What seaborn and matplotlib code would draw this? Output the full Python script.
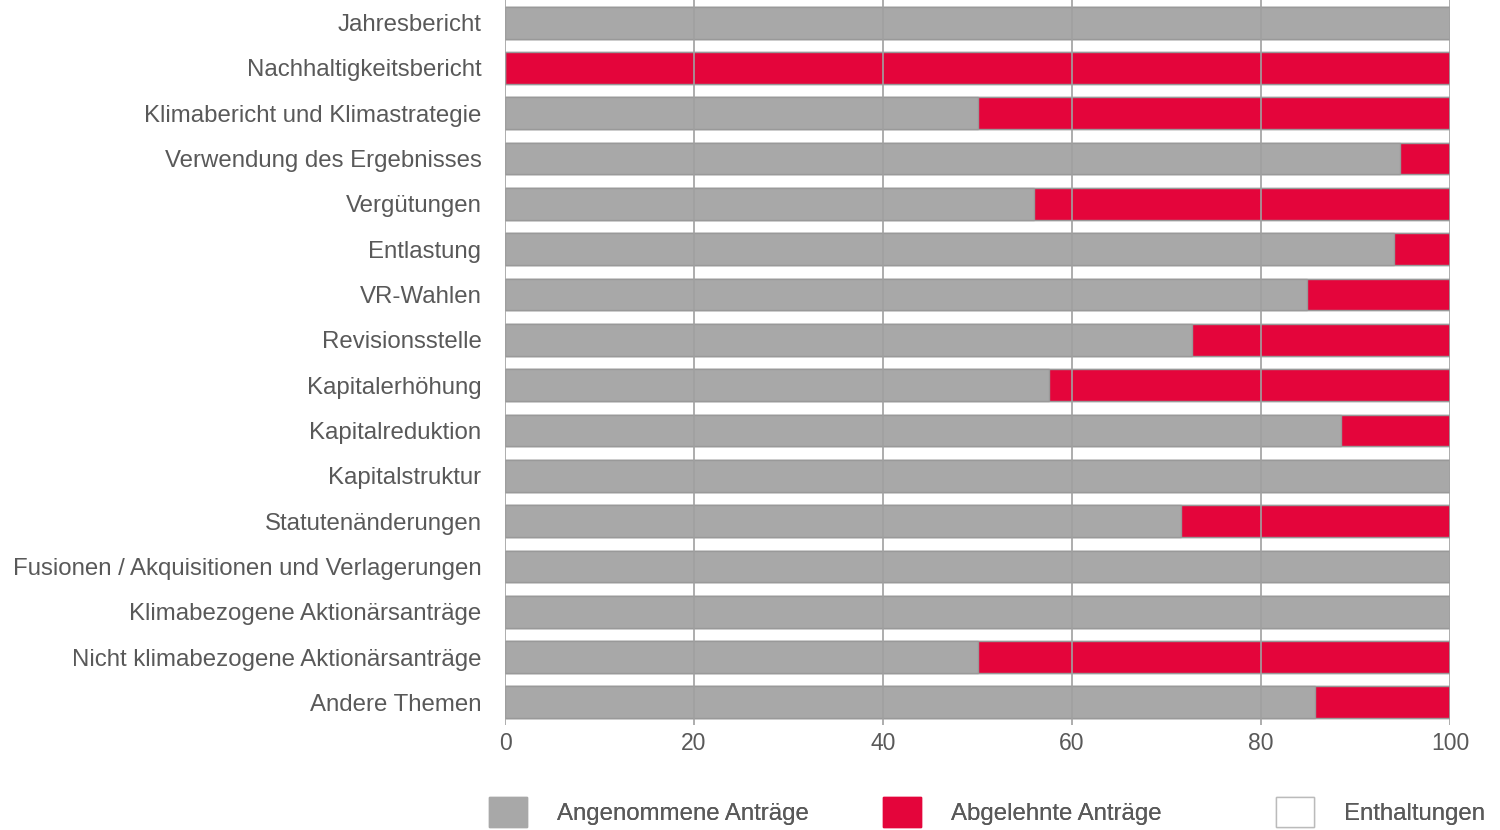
import matplotlib
matplotlib.use("Agg")
import matplotlib.pyplot as plt
import seaborn as sns
import pandas as pd
from matplotlib.patches import Patch

themen = [
    "Jahresbericht",
    "Nachhaltigkeitsbericht",
    "Klimabericht und Klimastrategie",
    "Verwendung des Ergebnisses",
    "Vergütungen",
    "Entlastung",
    "VR-Wahlen",
    "Revisionsstelle",
    "Kapitalerhöhung",
    "Kapitalreduktion",
    "Kapitalstruktur",
    "Statutenänderungen",
    "Fusionen / Akquisitionen und Verlagerungen",
    "Klimabezogene Aktionärsanträge",
    "Nicht klimabezogene Aktionärsanträge",
    "Andere Themen",
]
angenommen = [100, 0, 50, 94.7, 56, 94.1, 84.9, 72.7, 57.6, 88.5, 100, 71.5, 100, 100, 50, 85.7]
abgelehnt = [0, 100, 50, 5.3, 44, 5.9, 15.1, 27.3, 42.4, 11.5, 0, 28.5, 0, 0, 50, 14.3]
enthaltungen = [0] * 16

grau = "#a8a8a8"
rot = "#e4053b"
rand = "#999999"
textfarbe = "#595959"

df = pd.DataFrame({"thema": themen, "ang": angenommen, "abg": abgelehnt, "ent": enthaltungen})
df["stufe_abg"] = df["ang"] + df["abg"]
df["stufe_ent"] = df["stufe_abg"] + df["ent"]

plt.rcParams["font.family"] = ["Liberation Sans", "DejaVu Sans"]
fig = plt.figure(figsize=(15, 8.3), dpi=100)
ax = fig.add_axes([0.3367, 0.1265, 0.63, 0.8735])

sns.barplot(data=df, y="thema", x="stufe_ent", color="white", edgecolor=rand,
            linewidth=1, width=0.7, ax=ax, orient="h")
sns.barplot(data=df, y="thema", x="stufe_abg", color=rot, edgecolor=rand,
            linewidth=1, width=0.7, ax=ax, orient="h", saturation=1)
sns.barplot(data=df, y="thema", x="ang", color=grau, edgecolor=rand,
            linewidth=1, width=0.7, ax=ax, orient="h", saturation=1)

ax.set_xlim(0, 100)
ax.set_ylim(15.5, -0.5)
ax.set_xticks([0, 20, 40, 60, 80, 100])
ax.set_axisbelow(False)
ax.grid(axis="x", color="#a0a0a0", linewidth=1.2)
ax.grid(axis="y", visible=False)
for s in ax.spines.values():
    s.set_visible(False)
ax.set_xlabel("")
ax.set_ylabel("")
ax.tick_params(axis="y", length=0, pad=17, labelsize=17.3, labelcolor=textfarbe)
ax.tick_params(axis="x", length=0, labelsize=16.5, labelcolor=textfarbe, pad=5)

handles = [
    Patch(facecolor=grau, edgecolor=grau, label="Angenommene Anträge"),
    Patch(facecolor=rot, edgecolor=rot, label="Abgelehnte Anträge"),
    Patch(facecolor="white", edgecolor="#bbbbbb", label="Enthaltungen"),
]
for h, xpos in zip(handles, [489, 883, 1276]):
    leg = fig.legend(handles=[h], loc="center left", bbox_to_anchor=(xpos / 1500, 0.0217),
                     frameon=False, fontsize=17.3, labelcolor=textfarbe, handlelength=1.58,
                     handleheight=1.5, handletextpad=1.25, borderpad=0, borderaxespad=0)
    fig.add_artist(leg)

fig.savefig("out.png", dpi=100)
